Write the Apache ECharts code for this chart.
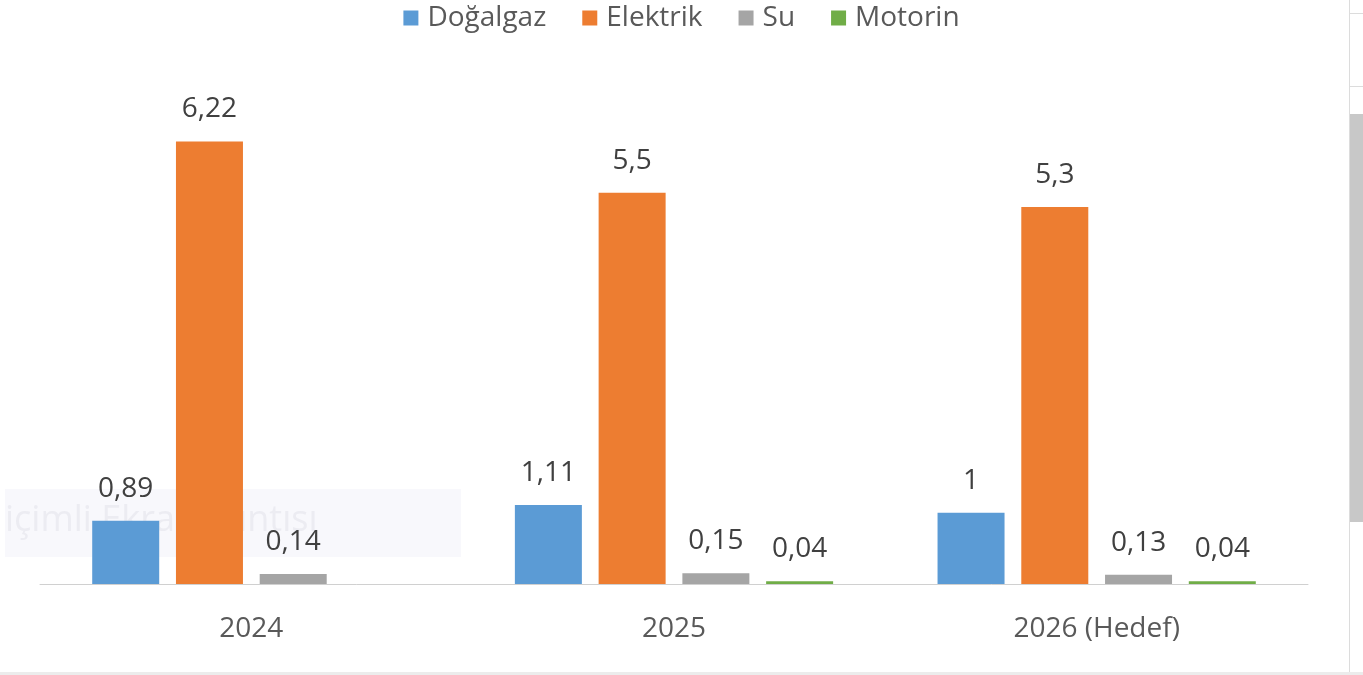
<!DOCTYPE html>
<html>
<head>
<meta charset="utf-8">
<script src="https://cdn.jsdelivr.net/npm/echarts@6/dist/echarts.min.js"></script>
<style>
  html, body { margin: 0; padding: 0; background: #fff; }
  #chart { width: 1363px; height: 675px; }
</style>
</head>
<body>
<div id="chart"></div>
<script>
// data
const years = ['2024', '2025', '2026 (Hedef)']
const seriesNames = ['Doğalgaz', 'Elektrik', 'Su', 'Motorin']
const dogalgaz = [0.89, 1.11, 1]
const elektrik = [6.22, 5.5, 5.3]
const su = [0.14, 0.15, 0.13]
const motorin = [null, 0.04, 0.04]
const colors = ['#5B9BD5', '#ED7D31', '#A5A5A5', '#70AD47']

const chart = echarts.init(document.getElementById('chart'))

const fmt = p => String(p.value).replace('.', ',')

const makeSeries = (name, data, i) => ({
  name: name,
  type: 'bar',
  data: data,
  barWidth: 67,
  barGap: '25%',
  itemStyle: { color: colors[i] },
  label: {
    show: true,
    position: 'top',
    distance: 18,
    formatter: fmt,
    color: '#404040',
    fontSize: 28,
    fontFamily: 'Open Sans'
  },
  z: 3
})

const option = {
  backgroundColor: '#fff',
  animation: false,
  textStyle: { fontFamily: 'Open Sans' },
  legend: {
    top: -1,
    left: 'center',
    itemWidth: 15,
    itemHeight: 15,
    itemGap: 36,
    icon: 'rect',
    data: seriesNames,
    textStyle: { color: '#595959', fontSize: 28, padding: [0, 0, 0, 4] }
  },
  grid: { left: 40, right: 55, top: 86, bottom: 91 },
  xAxis: {
    type: 'category',
    data: years,
    axisLine: { lineStyle: { color: '#d0d0d0', width: 1 } },
    axisTick: { show: false },
    axisLabel: { color: '#595959', fontSize: 28, margin: 31 }
  },
  yAxis: {
    type: 'value',
    min: 0,
    max: 7,
    show: false,
    splitLine: { show: false }
  },
  graphic: [
    // faint snip-tool watermark behind the first group
    { type: 'rect', shape: { x: 5, y: 489, width: 456, height: 68 }, style: { fill: '#f8f8fc' }, z: -1 },
    { type: 'text', x: 5, y: 503, style: { text: 'içimli Ekran Alıntısı', fill: '#ececf2', fontSize: 36, fontFamily: 'Open Sans' }, z: -1 },
    // window edges
    { type: 'rect', shape: { x: 1349, y: 0, width: 1, height: 672 }, style: { fill: '#dcdcdc' } },
    { type: 'rect', shape: { x: 1350, y: 114, width: 13, height: 408 }, style: { fill: '#c8c8c8' } },
    { type: 'rect', shape: { x: 1350, y: 13, width: 13, height: 1 }, style: { fill: '#dcdcdc' } },
    { type: 'rect', shape: { x: 1350, y: 86, width: 13, height: 1 }, style: { fill: '#dcdcdc' } },
    { type: 'rect', shape: { x: 0, y: 672, width: 1363, height: 3 }, style: { fill: '#ececec' } }
  ],
  series: [
    makeSeries(seriesNames[0], dogalgaz, 0),
    makeSeries(seriesNames[1], elektrik, 1),
    makeSeries(seriesNames[2], su, 2),
    makeSeries(seriesNames[3], motorin, 3)
  ]
}
chart.setOption(option)
</script>
</body>
</html>
